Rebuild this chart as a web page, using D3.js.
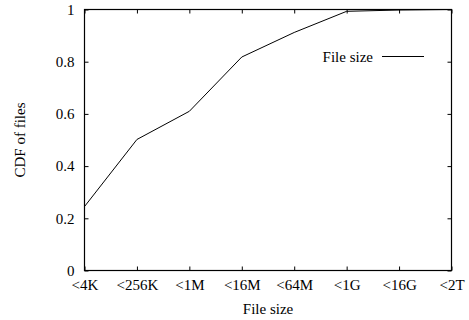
<!DOCTYPE html>
<html>
<head>
<meta charset="utf-8">
<script src="https://cdn.jsdelivr.net/npm/d3@7"></script>
<style>
  body { margin: 0; background: #fff; }
  svg { display: block; }
  text { font-family: "Liberation Serif", "Times New Roman", serif; fill: #000; }
</style>
</head>
<body>
<svg id="chart" width="469" height="320"></svg>
<script>
// ==== data ====
var sizeLabels = ["<4K", "<256K", "<1M", "<16M", "<64M", "<1G", "<16G", "<2T"];
var cdfValues = [0.245, 0.502, 0.61, 0.818, 0.912, 0.993, 0.998, 1.0];
var yTicks = [0, 0.2, 0.4, 0.6, 0.8, 1];
var seriesName = "File size";

// ==== layout ====
// (plotTop not "top": a global var top clashes with window.top)
var svg = d3.select("#chart");
var plotLeft = 84.5, plotRight = 451.5, plotTop = 9.5, plotBottom = 270.5;
var fontSize = "15px";
var serif = '"Liberation Serif", "Times New Roman", serif';

var x = d3.scalePoint().domain(sizeLabels).range([plotLeft, plotRight]);
var y = d3.scaleLinear().domain([0, 1]).range([plotBottom, plotTop]);

// bottom axis (ticks inside)
svg.append("g")
  .attr("transform", "translate(0," + plotBottom + ")")
  .call(d3.axisBottom(x).tickSizeInner(-4).tickSizeOuter(0).tickPadding(9));

// top mirror ticks
svg.append("g")
  .attr("transform", "translate(0," + plotTop + ")")
  .call(d3.axisTop(x).tickSizeInner(-4).tickSizeOuter(0).tickFormat(""));

// left axis
svg.append("g")
  .attr("transform", "translate(" + plotLeft + ",0)")
  .call(d3.axisLeft(y).tickValues(yTicks).tickSizeInner(-4).tickSizeOuter(0).tickPadding(10)
    .tickFormat(function (d) { return d === 0 || d === 1 ? d : d.toFixed(1); }));

// right mirror ticks
svg.append("g")
  .attr("transform", "translate(" + plotRight + ",0)")
  .call(d3.axisRight(y).tickValues(yTicks).tickSizeInner(-4).tickSizeOuter(0).tickFormat(""));

svg.selectAll("g").attr("font-family", serif).attr("font-size", fontSize);
svg.selectAll(".domain").remove();
svg.selectAll(".tick line").attr("stroke", "#000").attr("stroke-width", 1);
svg.selectAll(".tick text").attr("fill", "#000");

// frame
svg.append("rect")
  .attr("x", plotLeft).attr("y", plotTop)
  .attr("width", plotRight - plotLeft).attr("height", plotBottom - plotTop)
  .attr("fill", "none").attr("stroke", "#000").attr("stroke-width", 1.2);

// the cdf line
var line = d3.line()
  .x(function (d, i) { return x(sizeLabels[i]); })
  .y(function (d) { return y(d); });

svg.append("path")
  .datum(cdfValues)
  .attr("d", line)
  .attr("fill", "none")
  .attr("stroke", "#000")
  .attr("stroke-width", 1);

// legend
svg.append("text")
  .attr("x", 373).attr("y", 61.5)
  .attr("text-anchor", "end")
  .attr("font-family", serif)
  .style("font-size", fontSize)
  .text(seriesName);
svg.append("line")
  .attr("x1", 382).attr("x2", 424)
  .attr("y1", 56.5).attr("y2", 56.5)
  .attr("stroke", "#000").attr("stroke-width", 1);

// axis titles
svg.append("text")
  .attr("x", (plotLeft + plotRight) / 2).attr("y", 314)
  .attr("text-anchor", "middle")
  .attr("font-family", serif)
  .style("font-size", fontSize)
  .text("File size");

svg.append("text")
  .attr("transform", "translate(25," + (plotTop + plotBottom) / 2 + ") rotate(-90)")
  .attr("text-anchor", "middle")
  .attr("font-family", serif)
  .style("font-size", fontSize)
  .text("CDF of files");
</script>
</body>
</html>
